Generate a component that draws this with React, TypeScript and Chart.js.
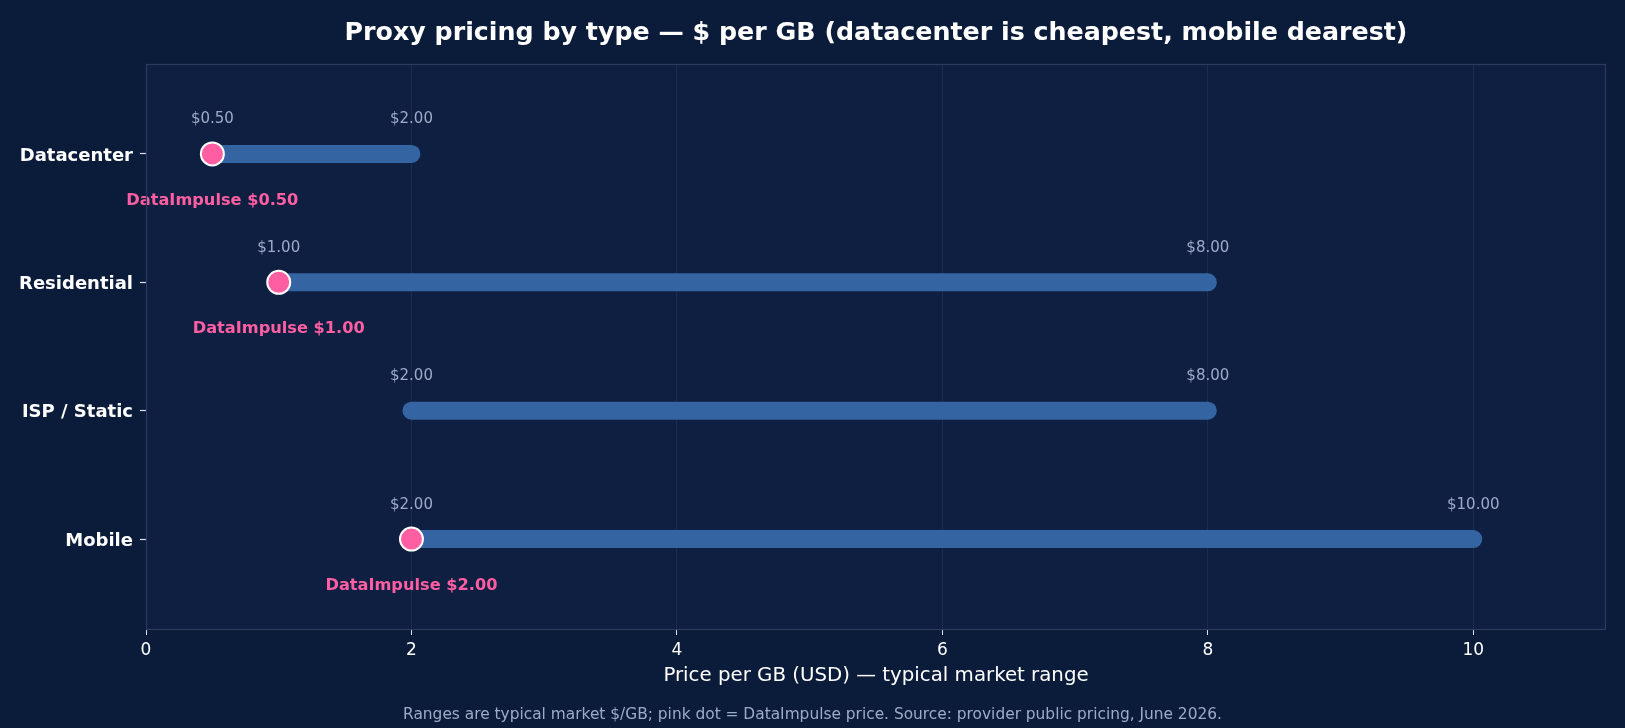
import React, { useEffect, useRef } from "react";
import { Chart, registerables } from "chart.js";

Chart.register(...registerables);

const categories = ["Datacenter", "Residential", "ISP / Static", "Mobile"];
const rangeLow = [0.5, 1, 2, 2];
const rangeHigh = [2, 8, 8, 10];
const dataImpulse: (number | null)[] = [0.5, 1, null, 2];
const xTickValues = [0, 2, 4, 6, 8, 10];

const TITLE = "Proxy pricing by type \u2014 $ per GB (datacenter is cheapest, mobile dearest)";
const X_TITLE = "Price per GB (USD) \u2014 typical market range";
const FOOTER = "Ranges are typical market $/GB; pink dot = DataImpulse price. Source: provider public pricing, June 2026.";

const FONT = "'DejaVu Sans', 'Liberation Sans', sans-serif";
const FIG_BG = "#0b1c3a";
const PLOT_BG = "#0f1f42";
const BORDER = "#2a3b5f";
const GRID = "#1c2c4e";
const BAR = "#3464a1";
const PINK = "#ff5fa2";
const MUTED = "#9eabc8";

const decor = {
  id: "decor",
  beforeDraw(chart: any) {
    const { ctx, chartArea: a, width, height } = chart;
    ctx.save();
    ctx.fillStyle = FIG_BG;
    ctx.fillRect(0, 0, width, height);
    ctx.fillStyle = PLOT_BG;
    ctx.fillRect(a.left, a.top, a.right - a.left, a.bottom - a.top);
    ctx.restore();
  },
  afterDatasetsDraw(chart: any) {
    const { ctx, scales } = chart;
    const xs = scales.x;
    const ys = scales.y;
    ctx.save();
    ctx.textAlign = "center";
    ctx.textBaseline = "middle";
    categories.forEach((_, i) => {
      const yp = ys.getPixelForValue(i);
      ctx.font = `15px ${FONT}`;
      ctx.fillStyle = MUTED;
      ctx.fillText(`$${rangeLow[i].toFixed(2)}`, xs.getPixelForValue(rangeLow[i]), yp - 34.5);
      ctx.fillText(`$${rangeHigh[i].toFixed(2)}`, xs.getPixelForValue(rangeHigh[i]), yp - 34.5);
      const d = dataImpulse[i];
      if (d !== null) {
        ctx.font = `bold 16.2px ${FONT}`;
        ctx.fillStyle = PINK;
        ctx.fillText(`DataImpulse $${d.toFixed(2)}`, xs.getPixelForValue(d), yp + 46.5);
      }
    });
    ctx.restore();
  },
  afterDraw(chart: any) {
    const { ctx, chartArea: a, width, scales } = chart;
    const ys = scales.y;
    ctx.save();
    ctx.strokeStyle = BORDER;
    ctx.lineWidth = 1.2;
    ctx.strokeRect(a.left + 0.5, a.top + 0.5, a.right - a.left - 1, a.bottom - a.top);
    // y category labels
    ctx.textAlign = "right";
    ctx.textBaseline = "middle";
    ctx.fillStyle = "#ffffff";
    ctx.font = `bold 18px ${FONT}`;
    categories.forEach((c, i) => {
      ctx.fillText(c, a.left - 13, ys.getPixelForValue(i) + 2);
    });
    const cx = (a.left + a.right) / 2;
    ctx.textAlign = "center";
    ctx.font = `bold 25.3px ${FONT}`;
    ctx.fillText(TITLE, cx, 33);
    ctx.font = `19.8px ${FONT}`;
    ctx.fillText(X_TITLE, cx, 676);
    ctx.font = `15.4px ${FONT}`;
    ctx.fillStyle = MUTED;
    ctx.fillText(FOOTER, width / 2, 715);
    ctx.restore();
  },
};

export default function App() {
  const ref = useRef<HTMLCanvasElement>(null);
  useEffect(() => {
    document.body.style.margin = "0";
    document.body.style.background = FIG_BG;
    const canvas = ref.current!;
    const datasets: any[] = categories.map((c, i) => ({
      type: "line",
      label: c,
      data: [
        { x: rangeLow[i], y: i },
        { x: rangeHigh[i], y: i },
      ],
      borderColor: BAR,
      borderWidth: 18,
      borderCapStyle: "round",
      pointRadius: 0,
      showLine: true,
      clip: false,
      order: 2,
    }));
    datasets.push({
      type: "scatter",
      label: "DataImpulse",
      data: dataImpulse
        .map((v, i) => (v === null ? null : { x: v, y: i }))
        .filter((p) => p !== null),
      backgroundColor: PINK,
      borderColor: "#ffffff",
      borderWidth: 2,
      pointRadius: 11.5,
      clip: false,
      order: 1,
    });
    const chart = new Chart(canvas, {
      type: "scatter",
      data: { datasets },
      options: {
        animation: false,
        responsive: false,
        devicePixelRatio: 1,
        layout: { padding: { left: 0, top: 64, right: 19, bottom: 0 } },
        plugins: { legend: { display: false }, tooltip: { enabled: false }, title: { display: false } },
        scales: {
          x: {
            type: "linear",
            min: 0,
            max: 11,
            afterBuildTicks: (s: any) => {
              s.ticks = xTickValues.map((v) => ({ value: v }));
            },
            afterFit: (s: any) => {
              s.height = 99;
            },
            border: { display: false },
            grid: { color: GRID, lineWidth: 1, tickColor: "#e0e4ee", tickLength: 6, drawTicks: true },
            ticks: { color: "#ffffff", font: { family: FONT, size: 17 }, padding: 5, maxRotation: 0 },
          },
          y: {
            type: "linear",
            min: -0.7,
            max: 3.7,
            reverse: true,
            afterBuildTicks: (s: any) => {
              s.ticks = categories.map((_, i) => ({ value: i }));
            },
            afterFit: (s: any) => {
              s.width = 146;
            },
            border: { display: false },
            grid: { drawOnChartArea: false, drawTicks: true, tickLength: 6, tickColor: "#e0e4ee", tickWidth: 1.2 },
            ticks: {
              color: "rgba(0,0,0,0)",
              font: { family: FONT, size: 17, weight: "bold" },
              padding: 7,
              callback: (v: any) => categories[Number(v)] ?? "",
            },
          },
        },
      },
      plugins: [decor],
    } as any);
    return () => chart.destroy();
  }, []);
  return <canvas ref={ref} width={1625} height={728} style={{ display: "block", width: 1625, height: 728 }} />;
}
